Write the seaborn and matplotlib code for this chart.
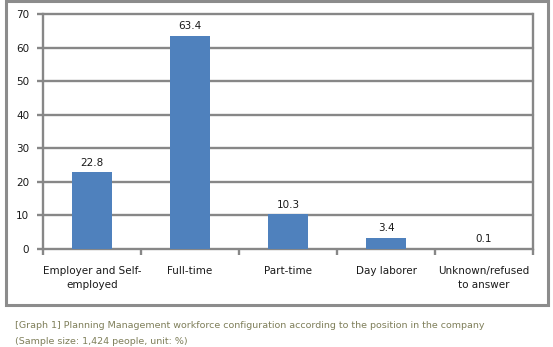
import matplotlib
matplotlib.use("Agg")
import matplotlib.pyplot as plt
import seaborn as sns
import pandas as pd
from matplotlib.patches import Rectangle

categories = ["Employer and Self-\nemployed", "Full-time", "Part-time",
              "Day laborer", "Unknown/refused\nto answer"]
values = [22.8, 63.4, 10.3, 3.4, 0.1]
y_ticks = [0, 10, 20, 30, 40, 50, 60, 70]
caption_lines = [
    "[Graph 1] Planning Management workforce configuration according to the position in the company",
    "(Sample size: 1,424 people, unit: %)",
]

sns.set_theme(style="white")
plt.rcParams["font.family"] = ["DejaVu Sans"]

BAR = "#4f81bd"
GRID = "#878787"
FRAME = "#8c8c8c"

df = pd.DataFrame({"category": categories, "value": values})

W, H = 553, 347
fig = plt.figure(figsize=(W / 100, H / 100), dpi=100)
fig.patch.set_facecolor("white")

# outer chart frame
fig.patches.append(Rectangle((6 / W, 1 - 305 / H), (548 - 6) / W, (305 - 0.5) / H,
                             transform=fig.transFigure, fill=False,
                             edgecolor=FRAME, linewidth=2.2, zorder=0))

ax = fig.add_axes([43 / W, 1 - 249 / H, (533 - 43) / W, (249 - 14) / H])
sns.barplot(data=df, x="category", y="value", color=BAR, width=0.4,
            saturation=1, linewidth=0, edgecolor=BAR, ax=ax, zorder=3)

ax.set_ylim(0, 70)
ax.set_xlim(-0.5, len(categories) - 0.5)
ax.set_yticks(y_ticks)
ax.set_yticklabels([str(t) for t in y_ticks], fontsize=7.5, color="#1a1a1a")
ax.set_xlabel("")
ax.set_ylabel("")

# horizontal gridlines (not clipped so the 0 and 70 lines keep full width)
for t in y_ticks:
    ax.axhline(t, color=GRID, linewidth=1.7, zorder=1, clip_on=False)

for side in ["left", "right"]:
    ax.spines[side].set_visible(True)
    ax.spines[side].set_color(GRID)
    ax.spines[side].set_linewidth(1.7)
ax.spines["top"].set_visible(False)
ax.spines["bottom"].set_visible(False)

# x ticks sit at the category boundaries
ax.set_xticks([i - 0.5 for i in range(len(categories) + 1)], minor=True)
ax.set_xticks(range(len(categories)))
ax.set_xticklabels(categories, fontsize=7.5, color="#1a1a1a", linespacing=1.6)
ax.tick_params(axis="x", which="major", length=0, pad=12)
ax.tick_params(axis="x", which="minor", length=4, width=1.7, color=GRID, direction="out", bottom=True)
ax.tick_params(axis="y", length=4, width=1.7, color=GRID, direction="out", left=True, pad=6)

for i, v in enumerate(values):
    ax.text(i, v + 1.4, f"{v:.1f}", ha="center", va="bottom", fontsize=7.5, color="#1a1a1a")

fig.text(15 / W, 1 - 326 / H, caption_lines[0], fontsize=6.8, color="#7f7f5a", va="center")
fig.text(15 / W, 1 - 341 / H, caption_lines[1], fontsize=6.8, color="#7f7f5a", va="center")

fig.savefig("out.png", dpi=100, facecolor="white")
